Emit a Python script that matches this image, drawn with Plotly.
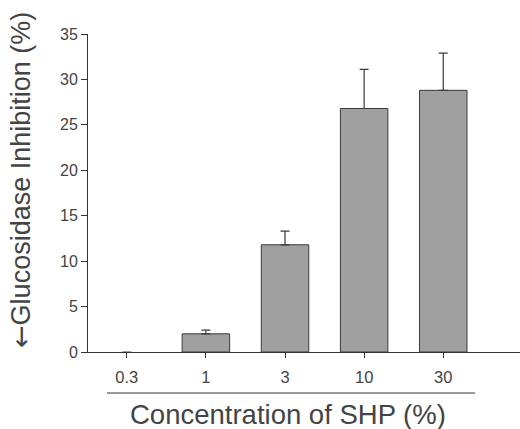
import plotly.graph_objects as go

categories = ["0.3", "1", "3", "10", "30"]
inhibition = [0, 2.0, 11.8, 26.8, 28.8]
error_up = [None, 0.4, 1.5, 4.3, 4.1]

y_ticks = [0, 5, 10, 15, 20, 25, 30, 35]

font_family = "Liberation Sans, Arial, sans-serif"
txt = "#444444"

fig = go.Figure()
fig.add_trace(go.Bar(
    x=categories,
    y=inhibition,
    width=0.6,
    marker=dict(color="#a0a0a0",
                line=dict(color="#3a3a3a", width=[0 if v == 0 else 1 for v in inhibition])),
    error_y=dict(type="data", array=error_up, arrayminus=[0]*5, symmetric=False,
                 visible=True, color="#3a3a3a", thickness=1.2, width=4.5),
))

fig.update_layout(
    width=520, height=429,
    margin=dict(l=88, r=0, t=34, b=77),
    paper_bgcolor="white", plot_bgcolor="white",
    showlegend=False,
    font=dict(family=font_family, color=txt),
    xaxis=dict(
        type="category",
        range=[-0.49, 4.97],
        showline=True, linecolor="#333", linewidth=1,
        ticks="outside", ticklen=5, tickcolor="#333",
        tickfont=dict(size=16.5, color=txt),
        ticklabelstandoff=5,
        showgrid=False, zeroline=False,
    ),
    yaxis=dict(
        range=[0, 35],
        tickvals=y_ticks,
        showline=True, linecolor="#333", linewidth=1,
        ticks="outside", ticklen=6, tickcolor="#333",
        tickfont=dict(size=16, color=txt),
        showgrid=False, zeroline=False,
    ),
    shapes=[dict(type="line", xref="paper", yref="paper",
                 x0=0.044, x1=0.896, y0=-0.129, y1=-0.129,
                 line=dict(color="#333", width=1))],
    annotations=[
        dict(text="Concentration of SHP (%)", xref="paper", yref="paper",
             x=0.463, y=-0.196, xanchor="center", yanchor="middle",
             showarrow=False, font=dict(size=27.5, color=txt)),
        dict(text="<span style='font-family:DejaVu Sans'>←</span>Glucosidase Inhibition (%)",
             xref="paper", yref="paper",
             x=-0.155, y=0.541, xanchor="center", yanchor="middle", textangle=-90,
             showarrow=False, font=dict(size=27, color=txt)),
    ],
)

fig.write_html("out.html", config={"displayModeBar": False},
               post_script="document.body.style.margin='0';")
